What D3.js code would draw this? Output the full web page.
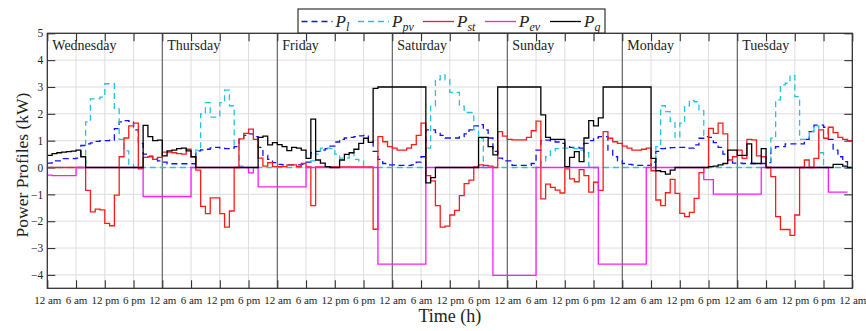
<!DOCTYPE html>
<html lang="en">
<head>
<meta charset="utf-8" />
<title>Power profiles</title>
<script src="https://cdn.jsdelivr.net/npm/d3@7"></script>
<style>
  body { margin: 0; background: #fff; }
  text { font-family: "Liberation Serif", "Times New Roman", serif; fill: #222; }
</style>
</head>
<body>
<div id="chart"></div>
<script>
/*******************************************
 * data (hourly values, 7 days x 24 h)
 *******************************************/
const dayNames = ["Wednesday", "Thursday", "Friday", "Saturday", "Sunday", "Monday", "Tuesday"];
const hourLabels = ["12 am", "6 am", "12 pm", "6 pm"];

// P_l : load
const pLoad = [
  0.16,0.25,0.25,0.33,0.33,0.33,0.35,0.82,0.88,0.92,0.97,1.0,1.0,1.02,1.45,1.7,1.75,1.72,1.4,0.9,0.5,0.42,0.33,0.25,
  0.2,0.14,0.14,0.14,0.14,0.14,0.14,0.62,0.66,0.68,0.73,0.75,0.72,0.7,0.72,0.78,1.05,1.2,1.25,1.15,0.75,0.45,0.3,0.18,
  0.12,0.1,0.1,0.1,0.1,0.12,0.2,0.55,0.6,0.65,0.7,0.8,0.95,1.05,1.1,1.12,1.15,1.18,1.2,0.95,0.6,0.3,0.15,0.1,
  0.1,0.08,0.08,0.08,0.1,0.2,0.4,1.4,1.4,1.3,1.2,1.1,1.1,1.1,1.15,1.25,1.4,1.55,1.6,1.4,1.1,0.6,0.35,0.25,
  0.25,0.08,0.08,0.08,0.08,0.15,0.65,1.0,1.02,0.98,0.95,0.9,0.8,0.75,0.75,0.72,0.9,1.0,1.1,1.15,1.15,0.65,0.4,0.25,
  0.15,0.12,0.1,0.08,0.08,0.08,0.2,0.6,0.7,0.72,0.74,0.75,0.75,0.72,0.72,0.84,1.09,1.15,1.12,0.93,0.75,0.5,0.28,0.16,
  0.16,0.15,0.15,0.15,0.15,0.15,0.18,0.72,0.78,0.78,0.88,0.88,0.88,0.88,1.05,1.34,1.58,1.58,1.5,1.05,0.65,0.4,0.22,0.1
];

// P_pv : photovoltaic
const pPv = [
  0,0,0,0,0,0,0,0,1.7,2.56,2.56,2.62,3.12,3.12,2.18,1.05,0.62,0.12,0,0,0,0,0,0,
  0,0,0,0,0,0,0,0.65,2.0,2.42,1.88,1.88,2.42,2.88,2.3,0.84,0.05,0,0,0,0,0,0,0,
  0,0,0,0,0,0,0,0.25,0.5,0.72,0.72,0.7,0.5,0.35,0.35,0.55,0.3,0.25,0,0,0,0,0,0,
  0,0,0,0,0,0,0,0.72,2.29,3.27,3.45,3.27,2.8,2.8,2.29,2.05,2.05,1.4,1.09,0,0,0,0,0,
  0,0,0,0,0,0,0,0.2,0.4,0.62,0.7,0.72,0.72,0.72,0.7,0.65,0.55,0.05,0,0,0,0,0,0,
  0,0,0,0,0,0,0,0.78,2.3,2.08,1.71,1.13,1.65,2.3,2.5,2.45,2.12,1.2,0,0,0,0,0,0,
  0,0,0,0,0,0,0,1.09,2.52,3.08,3.14,3.43,2.64,1.05,1.05,1.35,1.55,0.55,0,0,0,0,0,0
];

// P_st : storage
const pSt = [
  0,0,0,0,0,0,0,0,-0.85,-1.65,-1.55,-1.58,-2.08,-2.17,-1.03,0.4,1.1,1.55,1.65,-0.05,0.38,0.4,0.3,0.38,
  0.57,0.57,0.55,0.52,0.5,0.68,0.4,-0.1,-1.45,-1.72,-1.13,-1.13,-1.72,-2.22,-1.62,0,1.07,1.27,1.43,1.05,0.35,0.05,0.18,0.03,
  0.03,0.03,0.1,0.1,0.03,0.15,0.02,-1.42,0.02,0.02,0.02,0.02,0.02,0.02,0.02,0.02,0.02,0.02,0.02,0.02,-2.3,1.15,0.96,0.78,
  0.72,0.65,0.65,0.72,0.85,1.2,1.65,-0.3,-0.5,-1.42,-2.22,-2.18,-1.77,-1.6,-1.05,-0.6,-0.47,0.02,0.1,0.08,0.05,0.0,1.34,1.17,
  1.05,1.03,1.03,1.03,1.12,1.37,1.73,-1.17,-0.62,-0.74,-0.84,-0.95,-0.05,-0.42,-0.53,-0.08,-0.3,-0.92,-0.55,-0.85,1.34,1.09,0.96,0.9,
  0.8,0.72,0.65,0.65,0.68,0.72,-0.12,-1.21,-1.42,-0.94,-0.44,-0.96,-1.71,-1.83,-1.67,-1.15,-0.19,0,1.46,1.27,1.65,1.25,0.28,0.4,
  0.65,0.34,1.05,1.03,0.43,0.4,0,-0.34,-1.83,-2.31,-2.31,-2.53,-1.77,0,0.28,0,0.34,1.4,1.09,1.5,1.3,1.12,1.05,1.0
];

// P_ev : electric vehicle
const pEv = [
  -0.28,-0.3,-0.3,-0.3,-0.3,-0.3,0,0,0,0,0,0,0,0,0,0,0,0,0,0,-1.08,-1.08,-1.08,-1.08,
  -1.08,-1.08,-1.08,-1.08,-1.08,-1.08,0,0,0,0,0,0,0,0,0,0,0,0,-0.2,0,-0.72,-0.72,-0.72,-0.72,
  -0.72,-0.72,-0.72,-0.72,-0.72,-0.72,0,0,0,0,0,0,0,0,0,0,0,0,0,0,0,-3.6,-3.6,-3.6,
  -3.6,-3.6,-3.6,-3.6,-3.6,-3.6,-3.6,0,0,0,0,0,0,0,0,0,0,0,0,0,0,-4.02,-4.02,
  -4.02,-4.02,-4.02,-4.02,-4.02,-4.02,-4.02,0,0,0,0,0,0,0,0,0,0,0,0,0,-3.6,-3.6,-3.6,-3.6,
  -3.6,-3.6,-3.6,-3.6,-3.6,-3.6,0,0,0,0,0,0,0,0,0,0,0,0,-0.45,-0.45,-0.99,-0.99,-0.99,-0.99,
  -0.99,-0.99,-0.99,-0.99,-0.99,-0.99,0,0,0,0,0,0,0,0,0,0,0,0,0,0,-0.92,-0.92,-0.92,-0.92
];

// P_g : grid
const pGrid = [
  0.45,0.52,0.55,0.57,0.59,0.61,0.65,0.4,0,0,0,0,0,0,0,0,0,0,0,0,1.57,1.15,1.0,1.02,
  0.43,0.62,0.65,0.7,0.72,0.62,0.4,0,0,0,0,0,0,0,0,0,0,0,0,0,1.12,1.17,0.84,0.93,
  0.85,0.78,0.63,0.75,0.72,0.65,0.34,1.8,0.28,0.16,0.03,0,0,0.28,0.49,0.55,0.68,0.9,1.09,0.94,2.95,3.0,3.0,3.0,
  3.0,3.0,3.0,3.0,3.0,3.0,3.0,-0.57,-0.38,0,0,0,0,0,0,0,0,0,1.12,1.12,0.78,0.47,3.0,3.0,
  3.0,3.0,3.0,3.0,3.0,3.0,3.0,1.96,1.12,1.05,1.05,1.05,0.03,0.38,0.59,0.22,1.1,1.75,1.55,1.85,3.0,3.0,3.0,3.0,
  3.0,3.0,3.0,3.0,3.0,3.0,0.34,-0.12,-0.15,-0.25,-0.1,0,0,0,0,0,0,0,0.03,0.05,0.1,0.15,0.65,0.65,
  0.45,0.45,0.88,0.15,0.15,0.7,0,0,0,0,0,0,0,0,0,0,0,0,0,0,0.12,0.12,0.05,0
];

const series = [
  { sub: "l",  values: pLoad, color: "#1010ff", dash: "6,4" },
  { sub: "pv", values: pPv,   color: "#22c4dc", dash: "6,4" },
  { sub: "st", values: pSt,   color: "#ff1a1a", dash: null },
  { sub: "ev", values: pEv,   color: "#ff1aff", dash: null },
  { sub: "g",  values: pGrid, color: "#000000", dash: null },
];

/*******************************************
 * svg + scales
 *******************************************/
const width = 866;
const height = 331;
const plot = { left: 47.3, right: 852.3, top: 33.3, bottom: 288.3 };

const svg = d3.select("#chart").append("svg")
  .attr("width", width)
  .attr("height", height);

const xScale = d3.scaleLinear().domain([0, 168]).range([plot.left, plot.right]);
const yScale = d3.scaleLinear().domain([-4.5, 5]).range([plot.bottom, plot.top]);

const xTicks = d3.range(0, 169, 6);
const yTicks = d3.range(-4, 6, 1);

/*******************************************
 * grid
 *******************************************/
const grid = svg.append("g").attr("class", "grid");
grid.selectAll("line.gx")
  .data(xTicks.filter((t) => t % 24 !== 0))
  .enter().append("line")
  .attr("x1", (d) => xScale(d)).attr("x2", (d) => xScale(d))
  .attr("y1", plot.top).attr("y2", plot.bottom)
  .attr("stroke", "#dedede").attr("stroke-width", 1);
grid.selectAll("line.gy")
  .data(yTicks)
  .enter().append("line")
  .attr("x1", plot.left).attr("x2", plot.right)
  .attr("y1", (d) => yScale(d)).attr("y2", (d) => yScale(d))
  .attr("stroke", "#dedede").attr("stroke-width", 1);

// day separators
grid.selectAll("line.day")
  .data(d3.range(24, 168, 24))
  .enter().append("line")
  .attr("x1", (d) => xScale(d)).attr("x2", (d) => xScale(d))
  .attr("y1", plot.top).attr("y2", plot.bottom)
  .attr("stroke", "#555").attr("stroke-width", 1.1);

/*******************************************
 * axes (inward ticks on all four sides)
 *******************************************/
const xAxis = d3.axisBottom(xScale)
  .tickValues(xTicks)
  .tickSize(-8)
  .tickPadding(8)
  .tickFormat((d) => hourLabels[(d / 6) % 4]);
svg.append("g")
  .attr("transform", `translate(0, ${plot.bottom})`)
  .call(xAxis)
  .call((g) => g.select(".domain").remove())
  .call((g) => g.selectAll("text").style("font-size", "11px"));

svg.append("g")
  .attr("transform", `translate(0, ${plot.top})`)
  .call(d3.axisTop(xScale).tickValues(xTicks).tickSize(-8).tickFormat(""))
  .call((g) => g.select(".domain").remove());

svg.append("g")
  .attr("transform", `translate(${plot.left}, 0)`)
  .call(d3.axisLeft(yScale).tickValues(yTicks).tickSize(-8).tickPadding(4))
  .call((g) => g.select(".domain").remove())
  .call((g) => g.selectAll("text").style("font-size", "11.5px"));

svg.append("g")
  .attr("transform", `translate(${plot.right}, 0)`)
  .call(d3.axisRight(yScale).tickValues(yTicks).tickSize(-8).tickFormat(""))
  .call((g) => g.select(".domain").remove());

svg.selectAll(".tick line").attr("stroke", "#333").attr("stroke-width", 1.1);

/*******************************************
 * stairs
 *******************************************/
const stairs = d3.line()
  .x((d, i) => xScale(i))
  .y((d) => yScale(d))
  .curve(d3.curveStepAfter);

svg.append("g").selectAll("path.series")
  .data(series)
  .enter().append("path")
  .attr("class", "series")
  .attr("d", (s) => stairs(s.values.concat([s.values[s.values.length - 1]])))
  .attr("fill", "none")
  .attr("stroke", (s) => s.color)
  .attr("stroke-width", 1.3)
  .attr("stroke-dasharray", (s) => s.dash);

// frame
svg.append("rect")
  .attr("x", plot.left).attr("y", plot.top)
  .attr("width", plot.right - plot.left).attr("height", plot.bottom - plot.top)
  .attr("fill", "none").attr("stroke", "#333").attr("stroke-width", 1.3);

/*******************************************
 * day labels
 *******************************************/
svg.selectAll("text.day")
  .data(dayNames)
  .enter().append("text")
  .attr("x", (d, i) => xScale(i * 24) + 5)
  .attr("y", 49.5)
  .style("font-size", "14px")
  .text((d) => d);

/*******************************************
 * axis titles
 *******************************************/
svg.append("text")
  .attr("transform", `translate(28, 165) rotate(-90)`)
  .attr("text-anchor", "middle")
  .style("font-size", "17.5px")
  .text("Power Profiles (kW)");

svg.append("text")
  .attr("x", (plot.left + plot.right) / 2)
  .attr("y", 322)
  .attr("text-anchor", "middle")
  .style("font-size", "18px")
  .text("Time (h)");

/*******************************************
 * legend
 *******************************************/
const legend = svg.append("g");
legend.append("rect")
  .attr("x", 298).attr("y", 9).attr("width", 307).attr("height", 24)
  .attr("fill", "#fff").attr("stroke", "#333").attr("stroke-width", 1.2);

const legendX = [301.5, 358, 423, 485, 550];
series.forEach((s, i) => {
  const x0 = legendX[i];
  legend.append("line")
    .attr("x1", x0).attr("x2", x0 + 31)
    .attr("y1", 21.5).attr("y2", 21.5)
    .attr("stroke", s.color).attr("stroke-width", 1.3)
    .attr("stroke-dasharray", s.dash);
  const t = legend.append("text")
    .attr("x", x0 + 34).attr("y", 27)
    .style("font-size", "17px")
    .style("font-style", "italic");
  t.append("tspan").text("P");
  t.append("tspan").attr("dy", 4).style("font-size", "12px").text(s.sub);
});
</script>
</body>
</html>
